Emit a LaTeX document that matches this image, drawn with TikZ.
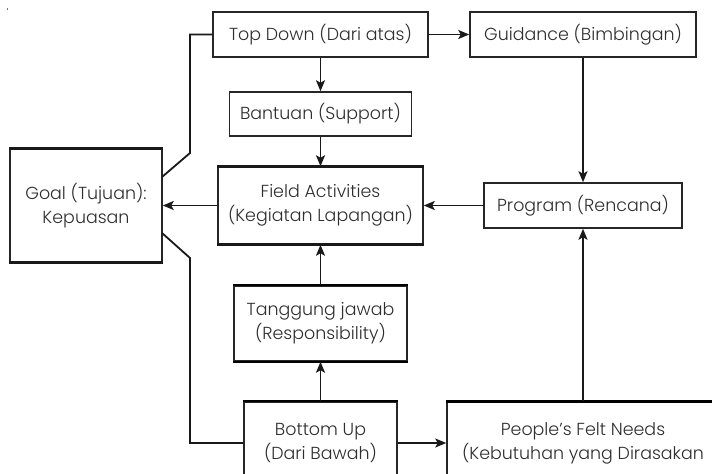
\documentclass[tikz,border=0pt]{standalone}
\usepackage{fontspec}
\setmainfont{Poppins}[UprightFont=* Light]
\usetikzlibrary{arrows.meta}
\begin{document}
\begin{tikzpicture}[x=1bp,y=-1bp,
  box/.style={draw=black!85, line width=1.5bp, rectangle, inner sep=0pt,
    align=center, text=black!82, font=\fontsize{17.5}{24}\selectfont},
  link/.style={line width=1.8bp, draw=black!90},
  arr/.style={link, -{Stealth[length=11bp,width=9bp,inset=2.5bp]}},
  heavy/.style={line width=3.2bp, draw=black!90}]
\useasboundingbox (0,0) rectangle (712,474);
\clip (0,0) rectangle (712,474);

% stray speck in the corner
\fill[black!55] (6.5,8.5) rectangle (8,10);

% boxes
\node[box, minimum width=152bp, minimum height=113bp] (goal) at (86,205.5) {Goal (Tujuan):\\Kepuasan};
\node[box, minimum width=215bp, minimum height=45bp] (topdown) at (320.5,34.5) {Top Down (Dari atas)};
\node[box, minimum width=226bp, minimum height=45bp] (guidance) at (583,34.5) {Guidance (Bimbingan)};
\node[box, minimum width=182bp, minimum height=44bp] (bantuan) at (320.5,114) {Bantuan (Support)};
\node[box, minimum width=205bp, minimum height=77bp] (field) at (320.5,205.5) {Field Activities\\(Kegiatan Lapangan)};
\node[box, minimum width=198bp, minimum height=45bp] (program) at (583,205.5) {Program (Rencana)};
\node[box, minimum width=173bp, minimum height=75bp] (tanggung) at (320.5,323.5) {Tanggung jawab\\(Responsibility)};
\node[box, minimum width=153bp, minimum height=82bp] (bottomup) at (320.5,443) {Bottom Up\\(Dari Bawah)};
\node[box, minimum width=272bp, minimum height=82bp] (people) at (583,443) {People’s Felt Needs\\(Kebutuhan yang Dirasakan};

% heavier top and bottom edges
\draw[heavy] (goal.north west) -- (goal.north east);
\draw[heavy] (goal.south west) -- (goal.south east);
\draw[heavy] (field.north west) -- (field.north east);
\draw[heavy] (field.south west) -- (field.south east);
\draw[line width=2.4bp] (tanggung.north west) -- (tanggung.north east);
\draw[line width=2.4bp] (tanggung.south west) -- (tanggung.south east);
\draw[line width=2.4bp] (bottomup.north west) -- (bottomup.north east);
\draw[line width=2.8bp] (people.north west) -- (people.north east);

% arrows
\draw[arr] (topdown.east) -- (guidance.west);
\draw[arr] (topdown.south) -- (bantuan.north);
\draw[arr] (bantuan.south) -- (field.north);
\draw[arr] (guidance.south) -- (program.north);
\draw[arr] (program.west) -- (field.east);
\draw[arr] (field.west) -- (goal.east);
\draw[arr] (tanggung.north) -- (field.south);
\draw[arr] (bottomup.north) -- (tanggung.south);
\draw[arr] (bottomup.east) -- (people.west);
\draw[arr] (people.north) -- (program.south);

% plain links into the goal box
\coordinate (gu) at (162,177);
\coordinate (gd) at (162,233);
\draw[link] (topdown.west) -- (190,34.5) -- (190,153) -- (gu);
\draw[link] (gd) -- (190,258) -- (190,443) -- (bottomup.west);
\end{tikzpicture}
\end{document}
